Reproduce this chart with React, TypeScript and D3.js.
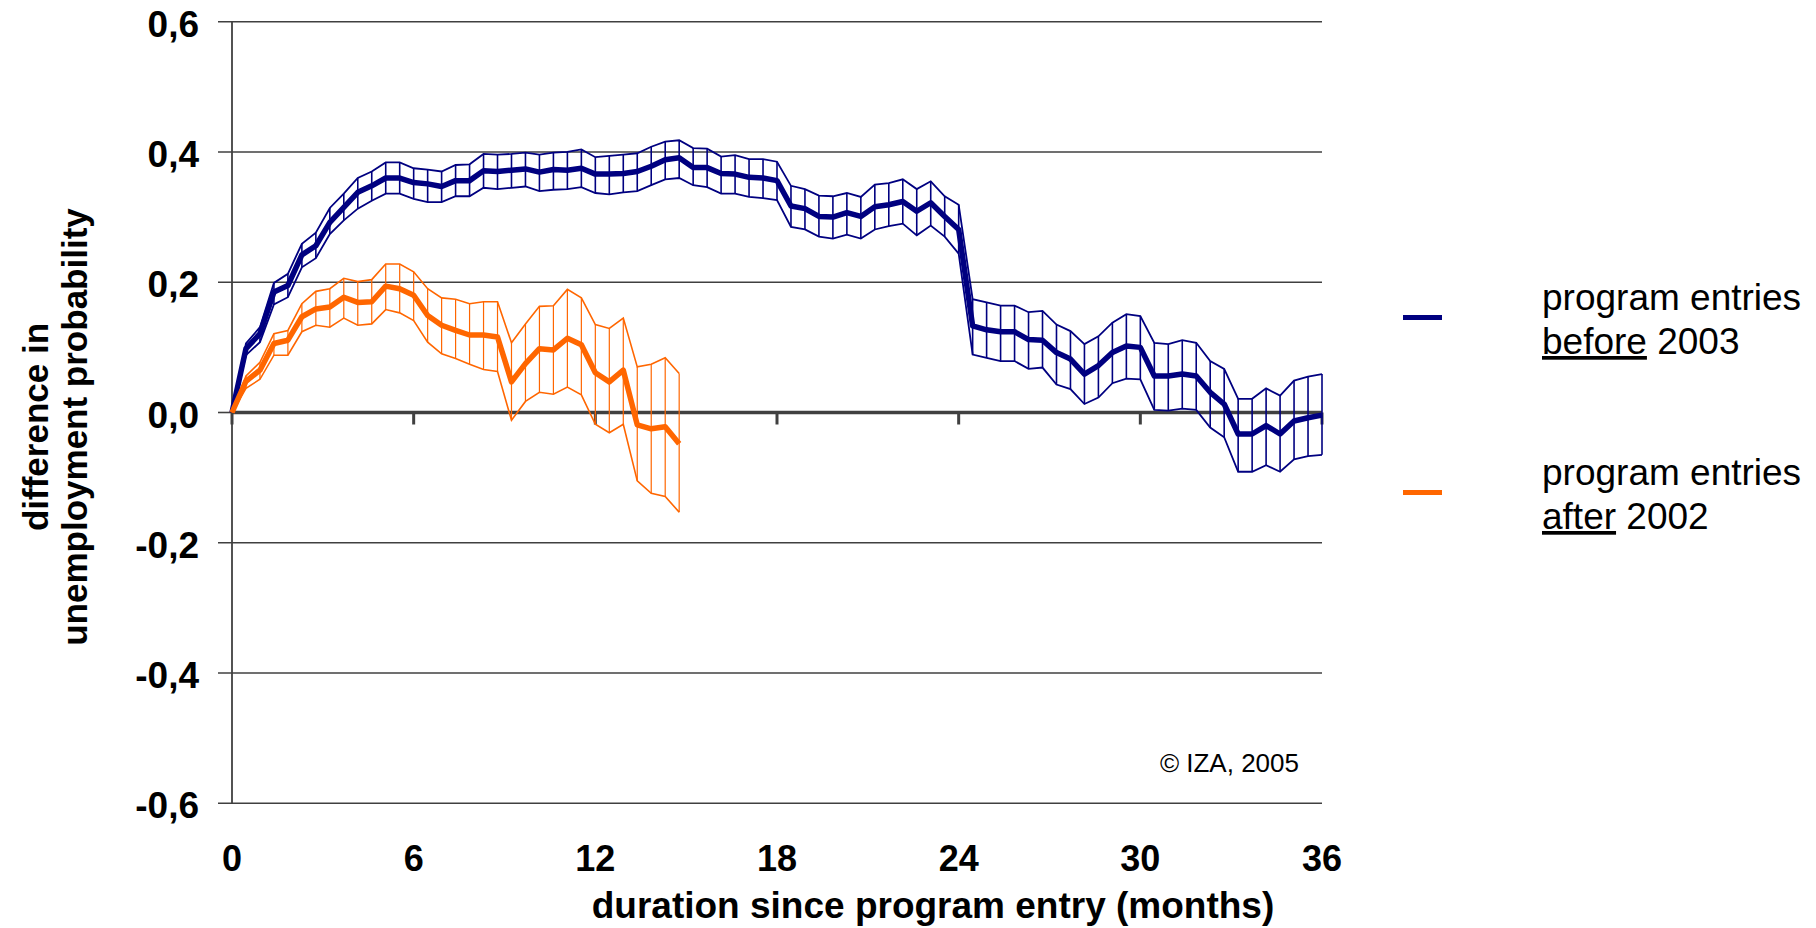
import { line as d3Line, scaleLinear } from "d3";

const WIDTH = 1816;
const HEIGHT = 928;
const PLOT = { left: 232, right: 1322, top: 21.7, bottom: 803.3 } as const;
const FONT = "'Liberation Sans', Arial, Helvetica, sans-serif";

// x axis: biweekly observations, 13 steps = 6 months
const MONTHS_PER_STEP = 6 / 13;
const X_TICKS = [0, 6, 12, 18, 24, 30, 36];
const X_TICK_LABELS = ["0", "6", "12", "18", "24", "30", "36"];
const Y_TICKS = [0.6, 0.4, 0.2, 0, -0.2, -0.4, -0.6];
const Y_TICK_LABELS = ["0,6", "0,4", "0,2", "0,0", "-0,2", "-0,4", "-0,6"];

// program entries before 2003
const beforeMean = [
  0, 0.098, 0.121, 0.185, 0.195, 0.242, 0.256, 0.292, 0.315, 0.338, 0.348, 0.36, 0.36, 0.353,
  0.351, 0.347, 0.356, 0.356, 0.371, 0.37, 0.372, 0.374, 0.369, 0.373, 0.372, 0.375, 0.366,
  0.366, 0.367, 0.37, 0.378, 0.388, 0.391, 0.376, 0.376, 0.367, 0.366, 0.361, 0.36, 0.356,
  0.317, 0.313, 0.301, 0.3, 0.307, 0.301, 0.316, 0.319, 0.324, 0.309, 0.322, 0.301, 0.281,
  0.133, 0.127, 0.124, 0.124, 0.112, 0.111, 0.092, 0.082, 0.059, 0.072, 0.092, 0.102, 0.1,
  0.056, 0.056, 0.059, 0.056, 0.031, 0.013, -0.033, -0.033, -0.02, -0.033, -0.013, -0.008,
  -0.004,
];
const beforeUpper = [
  0, 0.106, 0.131, 0.199, 0.213, 0.259, 0.276, 0.314, 0.336, 0.36, 0.37, 0.384, 0.384, 0.375,
  0.373, 0.37, 0.38, 0.381, 0.397, 0.396, 0.397, 0.399, 0.396, 0.399, 0.4, 0.404, 0.392, 0.394,
  0.396, 0.398, 0.408, 0.416, 0.418, 0.406, 0.405, 0.393, 0.395, 0.389, 0.389, 0.385, 0.348,
  0.343, 0.333, 0.332, 0.337, 0.331, 0.35, 0.352, 0.358, 0.343, 0.355, 0.332, 0.319, 0.174,
  0.169, 0.164, 0.164, 0.154, 0.156, 0.135, 0.125, 0.105, 0.117, 0.138, 0.151, 0.148, 0.107,
  0.105, 0.111, 0.107, 0.079, 0.067, 0.021, 0.021, 0.037, 0.026, 0.049, 0.055, 0.059,
];
const beforeLower = [
  0, 0.088, 0.108, 0.166, 0.177, 0.223, 0.237, 0.274, 0.295, 0.313, 0.325, 0.336, 0.336, 0.328,
  0.323, 0.323, 0.332, 0.332, 0.345, 0.343, 0.345, 0.347, 0.34, 0.342, 0.343, 0.346, 0.337,
  0.335, 0.338, 0.34, 0.349, 0.358, 0.36, 0.349, 0.346, 0.336, 0.336, 0.331, 0.329, 0.326,
  0.285, 0.281, 0.27, 0.267, 0.273, 0.267, 0.281, 0.286, 0.29, 0.272, 0.287, 0.27, 0.244,
  0.089, 0.084, 0.079, 0.079, 0.067, 0.069, 0.043, 0.036, 0.013, 0.023, 0.045, 0.052, 0.051,
  0.004, 0.003, 0.006, 0.004, -0.023, -0.038, -0.091, -0.091, -0.081, -0.091, -0.072, -0.067,
  -0.065,
];

// program entries after 2002
const afterMean = [
  0, 0.048, 0.065, 0.106, 0.111, 0.147, 0.159, 0.162, 0.177, 0.169, 0.17, 0.194, 0.19, 0.18,
  0.149, 0.134, 0.126, 0.119, 0.119, 0.116, 0.047, 0.075, 0.098, 0.096, 0.114, 0.104, 0.061,
  0.047, 0.065, -0.019, -0.025, -0.022, -0.048,
];
const afterUpper = [
  0, 0.056, 0.077, 0.121, 0.126, 0.167, 0.186, 0.19, 0.206, 0.201, 0.204, 0.228, 0.228, 0.216,
  0.19, 0.176, 0.174, 0.167, 0.17, 0.17, 0.107, 0.136, 0.163, 0.164, 0.189, 0.176, 0.135, 0.129,
  0.145, 0.07, 0.074, 0.084, 0.06,
];
const afterLower = [
  0, 0.037, 0.051, 0.088, 0.088, 0.124, 0.134, 0.131, 0.145, 0.134, 0.136, 0.158, 0.153, 0.141,
  0.108, 0.09, 0.083, 0.074, 0.066, 0.063, -0.012, 0.017, 0.031, 0.028, 0.039, 0.027, -0.018,
  -0.031, -0.018, -0.105, -0.124, -0.129, -0.153,
];

const LEGEND_ITEMS = [
  { key: "before", word: "before", year: "2003", color: "#000080" },
  { key: "after", word: "after", year: "2002", color: "#FF6600" },
];

const x = scaleLinear().domain([0, 36]).range([PLOT.left, PLOT.right]);
const y = scaleLinear().domain([-0.6, 0.6]).range([PLOT.bottom, PLOT.top]);

type BandProps = {
  mean: number[];
  upper: number[];
  lower: number[];
  color: string;
  edgeWidth: number;
  barWidth: number;
  meanWidth: number;
};

const Band = ({ mean, upper, lower, color, edgeWidth, barWidth, meanWidth }: BandProps) => {
  const path = d3Line<number>()
    .x((_, i) => x(i * MONTHS_PER_STEP))
    .y((v) => y(v));
  return (
    <g>
      {upper.map((u, i) => (
        <line
          key={i}
          x1={x(i * MONTHS_PER_STEP)}
          x2={x(i * MONTHS_PER_STEP)}
          y1={y(u)}
          y2={y(lower[i])}
          stroke={color}
          strokeWidth={barWidth}
        />
      ))}
      <path d={path(upper) ?? ""} fill="none" stroke={color} strokeWidth={edgeWidth} strokeLinejoin="miter" />
      <path d={path(lower) ?? ""} fill="none" stroke={color} strokeWidth={edgeWidth} strokeLinejoin="miter" />
      <path d={path(mean) ?? ""} fill="none" stroke={color} strokeWidth={meanWidth} strokeLinejoin="round" />
    </g>
  );
};

export default function App() {
  return (
    <svg
      width={WIDTH}
      height={HEIGHT}
      style={{ position: "absolute", left: 0, top: 0, background: "#fff" }}
      fontFamily={FONT}
    >
      <rect width={WIDTH} height={HEIGHT} fill="#fff" />
      {/* gridlines + y ticks */}
      {Y_TICKS.map((t, i) => (
        <g key={t}>
          <line
            x1={PLOT.left - 14}
            x2={t === 0 ? PLOT.left : PLOT.right}
            y1={y(t)}
            y2={y(t)}
            stroke="#404040"
            strokeWidth={1.6}
          />
          <text x={199} y={y(t) + 15} textAnchor="end" fontSize={37} fontWeight="bold" fill="#000">
            {Y_TICK_LABELS[i]}
          </text>
        </g>
      ))}
      <line x1={PLOT.left} x2={PLOT.left} y1={PLOT.top} y2={PLOT.bottom} stroke="#404040" strokeWidth={1.8} />
      {/* zero axis with month ticks */}
      <line x1={PLOT.left} x2={PLOT.right} y1={y(0)} y2={y(0)} stroke="#404040" strokeWidth={3.5} />
      {X_TICKS.map((t, i) => (
        <g key={t}>
          <line x1={x(t)} x2={x(t)} y1={y(0)} y2={y(0) + 12} stroke="#404040" strokeWidth={3} />
          <text x={x(t)} y={871} textAnchor="middle" fontSize={36} fontWeight="bold" fill="#000">
            {X_TICK_LABELS[i]}
          </text>
        </g>
      ))}

      <Band mean={beforeMean} upper={beforeUpper} lower={beforeLower} color="#000080" edgeWidth={1.8} barWidth={1.6} meanWidth={5.5} />
      <Band mean={afterMean} upper={afterUpper} lower={afterLower} color="#FF6600" edgeWidth={1.6} barWidth={1.2} meanWidth={5.5} />

      <text x={933} y={918} textAnchor="middle" fontSize={37} fontWeight="bold" fill="#000">
        duration since program entry (months)
      </text>
      <text transform="translate(0,427) rotate(-90)" textAnchor="middle" fontSize={35} fontWeight="bold" fill="#000">
        <tspan x={0} y={48}>difference in</tspan>
        <tspan x={0} y={87}>unemployment probability</tspan>
      </text>

      <text x={1299} y={772} textAnchor="end" fontSize={26} fill="#000">
        © IZA, 2005
      </text>

      {LEGEND_ITEMS.map((item, i) => {
        const top = 310 + i * 175;
        return (
          <g key={item.key}>
            <rect x={1403} y={top + 5} width={39} height={5} fill={item.color} />
            <text fontSize={37} fill="#000">
              <tspan x={1542} y={top}>program entries</tspan>
              <tspan x={1542} y={top + 44} style={{ textDecoration: "underline" }}>
                {item.word}
              </tspan>
              <tspan> {item.year}</tspan>
            </text>
          </g>
        );
      })}
    </svg>
  );
}
